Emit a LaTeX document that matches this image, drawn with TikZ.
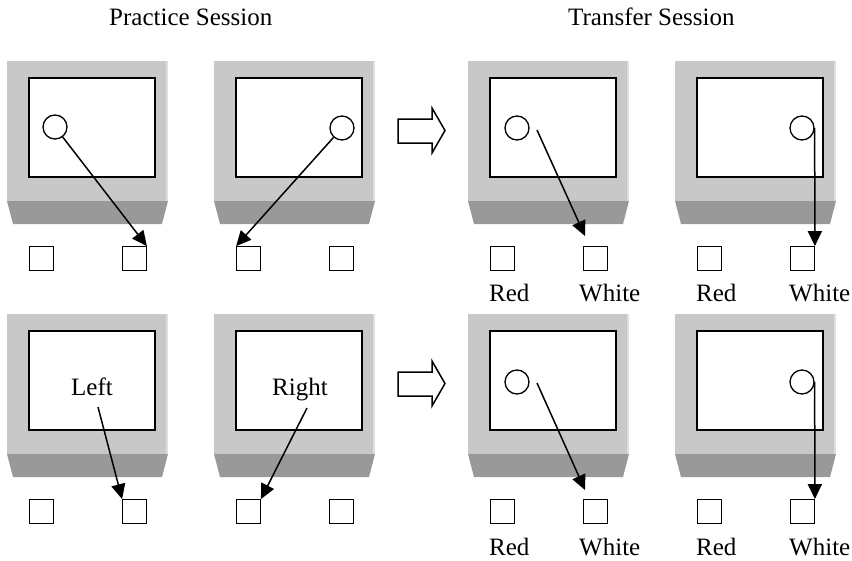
\documentclass[tikz,border=0pt]{standalone}
\usepackage{fontspec}
\setmainfont{Liberation Serif}
\usetikzlibrary{arrows.meta}

\definecolor{bodygray}{RGB}{200,200,200}
\definecolor{edgegray}{RGB}{222,222,222}
\definecolor{basegray}{RGB}{153,153,153}

\tikzset{
  screen/.style={draw=black, line width=1.5pt, fill=white, inner sep=0pt},
  key/.style={draw=black, line width=1.3pt, fill=white, inner sep=0pt, minimum size=23.5pt},
  dot/.style={circle, draw=black, line width=1.3pt, fill=white, inner sep=0pt, minimum size=24pt},
  lbl/.style={inner sep=0pt, anchor=base west, font=\fontsize{25}{30}\selectfont},
  pointer/.style={line width=1.5pt, -{Triangle[length=15pt,width=14pt]}},
  hollow/.style={draw=black, line width=1.5pt, fill=white, line join=miter},
  pics/monitor/.style={code={
    % cabinet, lighter right rim, tapered foot
    \fill[bodygray] (0,0) rectangle (161,140);
    \fill[edgegray] (158.5,0) rectangle (161,140);
    \fill[basegray] (0,140) -- (161,140) -- (155,163) -- (6,163) -- cycle;
    % screen and the two response keys
    \node[screen, minimum width=126pt, minimum height=99pt] (-scr) at (85,66.5) {};
    \node[key] (-sl) at (34.5,197.5) {};
    \node[key] (-sr) at (127.5,197.5) {};
  }}
}

\begin{document}
\begin{tikzpicture}[x=1pt, y=-1pt]
\useasboundingbox (0,0) rectangle (852,560);

% session headings
\node[lbl] (hp) at (109,25) {Practice Session};
\node[lbl] (ht) at (568,25) {Transfer Session};

% ---------- top row ----------
\pic (a1) at (7,61) {monitor};
\pic (a2) at (214,61) {monitor};
\pic (a3) at (468,61) {monitor};
\pic (a4) at (675,61) {monitor};

\node[dot] (a1c) at (55,127) {};
\node[dot] (a2c) at (342,128) {};
\node[dot] (a3c) at (517,128) {};
\node[dot] (a4c) at (802,128) {};

\draw[pointer] (a1c) -- (a1-sr.north east);
\draw[pointer] (a2c) -- (a2-sl.north west);
\coordinate (a3s) at (537,130);
\coordinate (a3e) at (585,236);
\draw[pointer] (a3s) -- (a3e);
\draw[pointer] (a4c.east) -- (a4-sr.north east);

\draw[hollow] (398,119) -- (432,119) -- (432,108) -- (445,130.5) -- (432,153) -- (432,143) -- (398,143) -- cycle;

\node[lbl] (a3r) at (489,301) {Red};
\node[lbl] (a3w) at (579,301) {White};
\node[lbl] (a4r) at (696,301) {Red};
\node[lbl] (a4w) at (789,301) {White};

% ---------- bottom row ----------
\pic (b1) at (7,314) {monitor};
\pic (b2) at (214,314) {monitor};
\pic (b3) at (468,314) {monitor};
\pic (b4) at (675,314) {monitor};

\node[lbl] (b1t) at (71,395) {Left};
\node[lbl] (b2t) at (272,395) {Right};
\node[dot] (b3c) at (517,382) {};
\node[dot] (b4c) at (802,382) {};

\coordinate (b1s) at (98,407);
\coordinate (b2s) at (307,408);
\draw[pointer] (b1s) -- (b1-sr.north west);
\draw[pointer] (b2s) -- (b2-sl.north east);
\coordinate (b3s) at (537,383);
\coordinate (b3e) at (585,490);
\draw[pointer] (b3s) -- (b3e);
\draw[pointer] (b4c.east) -- (b4-sr.north east);

\draw[hollow] (398,372) -- (432,372) -- (432,361) -- (445,383.5) -- (432,406) -- (432,396) -- (398,396) -- cycle;

\node[lbl] (b3r) at (489,555) {Red};
\node[lbl] (b3w) at (579,555) {White};
\node[lbl] (b4r) at (696,555) {Red};
\node[lbl] (b4w) at (789,555) {White};
\end{tikzpicture}
\end{document}
